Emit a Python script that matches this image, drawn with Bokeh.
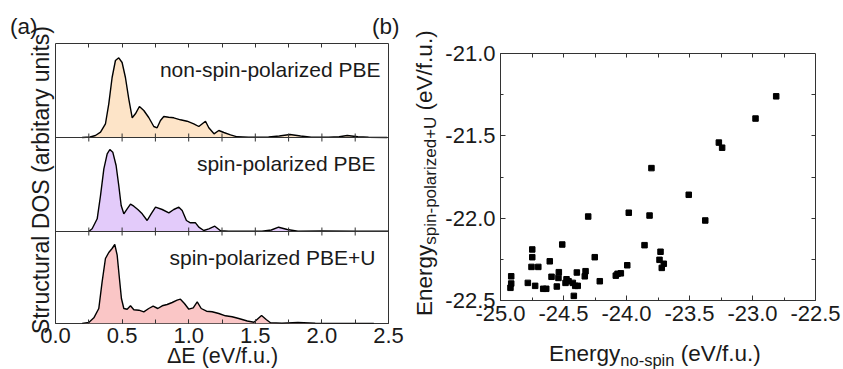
import math
from bokeh.plotting import figure
from bokeh.models import (Range1d, LinearAxis, Label, Span, SingleIntervalTicker,
                          FixedTicker, NumeralTickFormatter, Div)
from bokeh.layouts import row
from bokeh.embed import file_html
from bokeh.resources import INLINE

FONT = "Liberation Sans"
TXT = "#1a1a1a"
FR = "#333333"

# ---------------- data: panel (a) structural DOS ----------------
e_top = [0.20, 0.26, 0.30, 0.338, 0.375, 0.40, 0.425, 0.45, 0.475, 0.50, 0.525, 0.55, 0.576,
         0.60, 0.63, 0.663, 0.70, 0.738, 0.763, 0.788, 0.813, 0.85, 0.888, 0.938, 0.988,
         1.038, 1.076, 1.126, 1.151, 1.19, 1.226, 1.264, 1.314, 1.364, 1.45, 1.60, 1.68,
         1.76, 1.84, 1.92, 2.05, 2.13, 2.19, 2.27, 2.35, 2.49]
dos_top = [0, 0.5, 2, 5.3, 13.7, 33.7, 60, 77, 79.7, 75, 60, 38.7, 19.7,
           23.7, 31, 27, 20, 11, 9.7, 17, 21, 20.3, 19.7, 17.7, 16.3,
           13.7, 11, 16.3, 9.7, 3.7, 7, 5, 2.7, 0.7, 0.3, 0.5, 1.5,
           3, 1.5, 0.3, 0.2, 0.8, 2, 0.8, 0.2, 0]

e_mid = [0.25, 0.275, 0.313, 0.338, 0.363, 0.388, 0.408, 0.43, 0.455, 0.475, 0.493, 0.513,
         0.538, 0.563, 0.588, 0.618, 0.651, 0.688, 0.718, 0.751, 0.801, 0.851, 0.888, 0.926,
         0.951, 0.983, 1.013, 1.051, 1.076, 1.113, 1.151, 1.196, 1.239, 1.30, 1.45, 1.55,
         1.62, 1.675, 1.74, 1.82, 2.0, 2.25, 2.5]
dos_mid = [0, 2.7, 12.7, 36, 62.7, 77.7, 82, 79.3, 66, 46, 26, 17.7,
           22.7, 27.3, 25.3, 22, 17.7, 11, 17.7, 24.3, 22, 18.7, 22, 24.3,
           21, 11, 8.7, 8.7, 4.3, 1, 2.7, 5.3, 0.7, 0.2, 0.3, 0.2,
           1.5, 4.3, 2, 0.3, 0.5, 0.3, 0.2]

e_bot = [0.20, 0.25, 0.288, 0.325, 0.35, 0.375, 0.40, 0.425, 0.445, 0.463, 0.48, 0.495,
         0.513, 0.538, 0.563, 0.588, 0.626, 0.663, 0.70, 0.733, 0.768, 0.801, 0.838, 0.876,
         0.913, 0.938, 0.968, 1.001, 1.034, 1.064, 1.094, 1.134, 1.176, 1.226, 1.276, 1.326,
         1.376, 1.44, 1.49, 1.547, 1.584, 1.614, 1.70, 1.82, 1.95, 2.39]
dos_bot = [0, 1, 5.7, 15, 41.7, 65, 71, 75, 79, 68.3, 45, 25,
           15, 14.3, 17.7, 13.7, 13.3, 11.7, 15, 17.3, 15, 17.7, 19, 21,
           23.3, 24.3, 20, 14.3, 15.7, 21.7, 15, 12.3, 11.7, 10, 7.7, 6.7,
           5, 2.5, 1.3, 8, 3.7, 0.7, 0.3, 1, 0.2, 0]

panel_names = ["non-spin-polarized PBE", "spin-polarized PBE", "spin-polarized PBE+U"]
fill_colors = ["#FDE4C8", "#E3CBFA", "#FAC6C6"]
dos_ticks = [0.25, 0.5, 0.75, 1.0, 1.25, 1.5, 1.75, 2.0, 2.25]

# ---------------- data: panel (b) energies ----------------
e_nospin = [-24.915, -24.915, -24.921, -24.783, -24.725, -24.748, -24.748, -24.754, -24.700,
            -24.661, -24.637, -24.609, -24.595, -24.553, -24.537, -24.540, -24.510, -24.476,
            -24.484, -24.460, -24.426, -24.407, -24.387, -24.418, -24.394, -24.325, -24.331,
            -24.304, -24.252, -24.212, -24.085, -24.071, -24.045, -23.994, -23.982, -23.857,
            -23.817, -23.730, -23.738, -23.704, -23.720, -23.506, -23.375, -23.802, -23.267,
            -23.241, -22.976, -22.812]
e_spinU = [-22.353, -22.397, -22.423, -22.393, -22.411, -22.190, -22.237, -22.296, -22.296,
           -22.429, -22.429, -22.262, -22.356, -22.415, -22.328, -22.363, -22.160, -22.371,
           -22.393, -22.383, -22.393, -22.411, -22.411, -22.472, -22.330, -22.322, -22.353,
           -21.990, -22.237, -22.383, -22.349, -22.338, -22.335, -22.286, -21.967, -22.164,
           -21.984, -22.204, -22.253, -22.277, -22.302, -21.858, -22.014, -21.696, -21.541,
           -21.572, -21.395, -21.260]
b_x_minor = [-24.75, -24.5, -24.25, -24.0, -23.75, -23.5, -23.25, -23.0, -22.75]
b_y_minor = [-22.25, -22.0, -21.75, -21.5, -21.25]


def style_axis(ax, size="22px", standoff=6, tin=4, mtin=4):
    ax.axis_line_color = None
    ax.major_tick_in = tin
    ax.major_tick_out = 0
    ax.minor_tick_in = mtin
    ax.minor_tick_out = 0
    ax.major_tick_line_color = FR
    ax.minor_tick_line_color = FR
    ax.major_label_standoff = standoff
    ax.major_label_text_font = FONT
    ax.major_label_text_font_size = size
    ax.major_label_text_color = TXT


def tick_only_axis(p, loc, ticks, length):
    ax = LinearAxis(ticker=FixedTicker(ticks=[], minor_ticks=ticks))
    ax.axis_line_color = None
    ax.major_tick_line_color = None
    ax.minor_tick_in = length
    ax.minor_tick_out = 0
    ax.minor_tick_line_color = FR
    p.add_layout(ax, loc)


def lab(p, text, x, y, size, align="left", baseline="alphabetic"):
    p.add_layout(Label(x=x, y=y, text=text,
                       text_font=FONT, text_font_size=size, text_color=TXT,
                       text_align=align, text_baseline=baseline))


BASE = 0.847  # baseline offset (em) of Liberation Sans with line-height 1


def page_text(html, left, baseline, fs, rotated=False):
    """HTML text placed on the page; for rotated text `baseline` is the x of the baseline
    and `left` the y where the text starts (reading bottom to top)."""
    st = {"position": "absolute", "z-index": "10", "margin": "0", "padding": "0",
          "line-height": "1", "font-family": FONT, "font-size": f"{fs}px", "color": TXT,
          "white-space": "nowrap", "display": "block", "overflow": "visible"}
    if rotated:
        st.update({"left": f"{baseline - BASE * fs:.1f}px", "top": f"{left:.1f}px",
                   "transform": "rotate(-90deg)", "transform-origin": "0 0"})
    else:
        st.update({"left": f"{left:.1f}px", "top": f"{baseline - BASE * fs:.1f}px"})
    return Div(text=html, styles=st)


def sub(t, fs, drop):
    return f'<span style="font-size:{fs}px; vertical-align:-{drop}px">{t}</span>'


# pixel -> data helpers (frame geometry of panel a)
def a_x(px):
    return (px - 55) * 2.5 / 333


def a_y(py):
    return 323 - py


# ---------------- panel (a) ----------------
pa = figure(width=410, height=369, output_backend="svg", toolbar_location=None,
            x_range=Range1d(0, 2.5), y_range=Range1d(0, 280),
            x_axis_location=None, y_axis_location=None,
            min_border_left=55, min_border_right=22, min_border_top=43, min_border_bottom=46)
pa.frame_align = False
pa.grid.visible = False
pa.border_fill_color = None
pa.outline_line_color = FR
pa.outline_line_width = 1
pa.extra_y_ranges = {"top": Range1d(-186, 94), "mid": Range1d(-92, 188), "bot": Range1d(0, 280)}

for name, ex, dv, col in [("top", e_top, dos_top, fill_colors[0]),
                          ("mid", e_mid, dos_mid, fill_colors[1]),
                          ("bot", e_bot, dos_bot, fill_colors[2])]:
    pa.varea(x=ex, y1=[0] * len(ex), y2=dv, fill_color=col, y_range_name=name)
    pa.line(x=ex, y=dv, line_color="black", line_width=1.4, y_range_name=name)

for loc in (92, 186):
    pa.add_layout(Span(location=loc, dimension="width", line_color=FR, line_width=1))
    pa.segment(x0=dos_ticks, x1=dos_ticks, y0=[loc - 4] * len(dos_ticks),
               y1=[loc + 4] * len(dos_ticks), line_color=FR, line_width=1)

xa = LinearAxis(ticker=SingleIntervalTicker(interval=0.5, num_minor_ticks=2),
                formatter=NumeralTickFormatter(format="0.0"))
style_axis(xa, standoff=4)
pa.add_layout(xa, "below")
tick_only_axis(pa, "above", dos_ticks, 4)

lab(pa, panel_names[0], a_x(380), a_y(69), "21px", align="right")
lab(pa, panel_names[1], a_x(375), a_y(162.7), "21px", align="right")
lab(pa, panel_names[2], a_x(375), a_y(256.7), "21px", align="right")

# ---------------- panel (b) ----------------
pb = figure(width=433, height=369, output_backend="svg", toolbar_location=None,
            x_range=Range1d(-25, -22.5), y_range=Range1d(-22.5, -21.0),
            x_axis_location=None, y_axis_location=None,
            min_border_left=90, min_border_right=28, min_border_top=53, min_border_bottom=69)
pb.frame_align = False
pb.grid.visible = False
pb.border_fill_color = None
pb.outline_line_color = FR
pb.outline_line_width = 1

pb.scatter(x=e_nospin, y=e_spinU, marker="square", size=5.5, color="black")

xb = LinearAxis(ticker=SingleIntervalTicker(interval=0.5, num_minor_ticks=2),
                formatter=NumeralTickFormatter(format="0.0"))
style_axis(xb, standoff=5, tin=5, mtin=3)
pb.add_layout(xb, "below")
yb = LinearAxis(ticker=SingleIntervalTicker(interval=0.5, num_minor_ticks=2),
                formatter=NumeralTickFormatter(format="0.0"))
style_axis(yb, standoff=5, tin=5, mtin=3)
pb.add_layout(yb, "left")
tick_only_axis(pb, "above", b_x_minor, 4)
tick_only_axis(pb, "right", b_y_minor, 4)

# ---------------- page texts (outside the plot frames) ----------------
texts = [
    page_text("(a)", 10, 35, 22.5),
    page_text("(b)", 372, 35, 22.5),
    page_text("\u0394E (eV/f.u.)", 167, 364.5, 21.5),
    page_text("Structural DOS (arbitary units)", 334, 49, 23, rotated=True),
    page_text("Energy" + sub("no-spin", 16.5, 5) + " (eV/f.u.)", 549, 362, 22.5),
    page_text("Energy" + sub("spin-polarized+U", 17, 4) + " (eV/f.u.)", 316, 433, 22.5,
              rotated=True),
]

layout = row(pa, pb, spacing=0)
layout.elements = texts
open("out.html", "w").write(file_html(layout, INLINE))
